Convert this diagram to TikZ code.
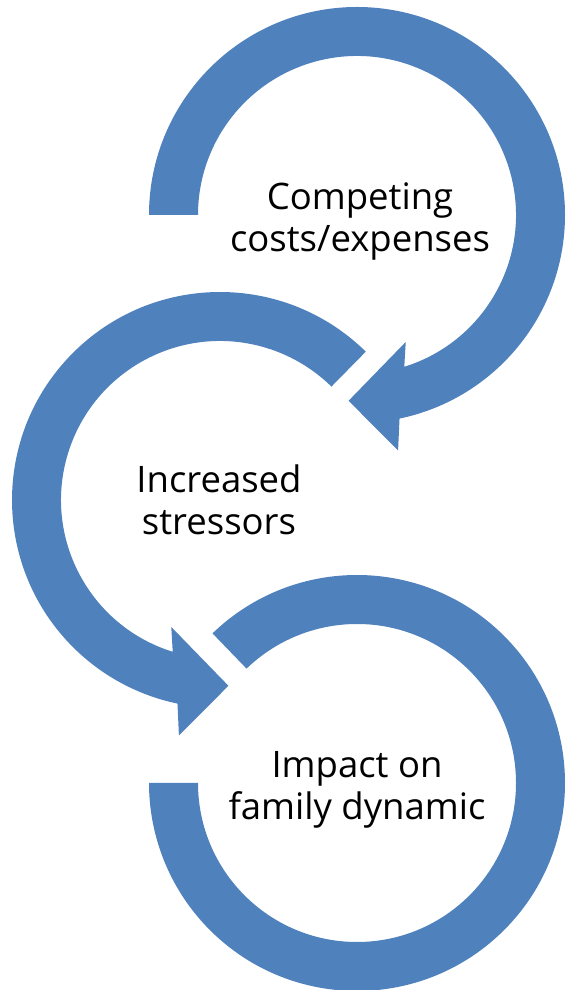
\documentclass[tikz,border=0pt]{standalone}
\usepackage{fontspec}
\setmainfont{Open Sans}
\usetikzlibrary{calc}

\definecolor{ringblue}{HTML}{4F81BD}
\newcommand{\ringout}{208}
\newcommand{\ringin}{159}

\begin{document}
\begin{tikzpicture}[x=1pt,y=1pt,
    ring/.style={fill=ringblue,draw=none},
    steptext/.style={align=center,inner sep=0pt,
        font=\fontsize{36.5}{42}\selectfont}
]
\useasboundingbox (0,0) rectangle (566,990);
% ring centres
\coordinate (T) at (357,775);
\coordinate (M) at (220,490);
\coordinate (B) at (357,207);

% top ring, clockwise, head at lower left
\path[ring] ($(T)+(180:\ringout)$)
    arc[start angle=180,end angle=-78.2,radius=\ringout]
    -- ($(T)+(-80.1:239)$) -- ($(T)+(-92.6:186)$) -- ($(T)+(-69:136)$)
    -- ($(T)+(-72.7:\ringin)$)
    arc[start angle=-72.7,end angle=180,radius=\ringin] -- cycle;

% middle ring, counter-clockwise, head at lower right
\path[ring] ($(M)+(45.5:\ringout)$)
    arc[start angle=45.5,end angle=258.2,radius=\ringout]
    -- ($(M)+(260.1:239)$) -- ($(M)+(272.6:186)$) -- ($(M)+(249:136)$)
    -- ($(M)+(252.7:\ringin)$)
    arc[start angle=252.7,end angle=45.5,radius=\ringin] -- cycle;

% bottom ring, no head
\path[ring] ($(B)+(134:\ringout)$)
    arc[start angle=134,end angle=-180,radius=\ringout]
    -- ($(B)+(180:\ringin)$)
    arc[start angle=-180,end angle=134,radius=\ringin] -- cycle;

\node[steptext] (costs) at ($(T)+(3,-7)$) {Competing\\costs/expenses};
\node[steptext] (stress) at ($(M)+(-1,0)$) {Increased\\stressors};
\node[steptext] (impact) at ($(B)+(0,-7)$) {Impact on\\family dynamic};
\end{tikzpicture}
\end{document}
